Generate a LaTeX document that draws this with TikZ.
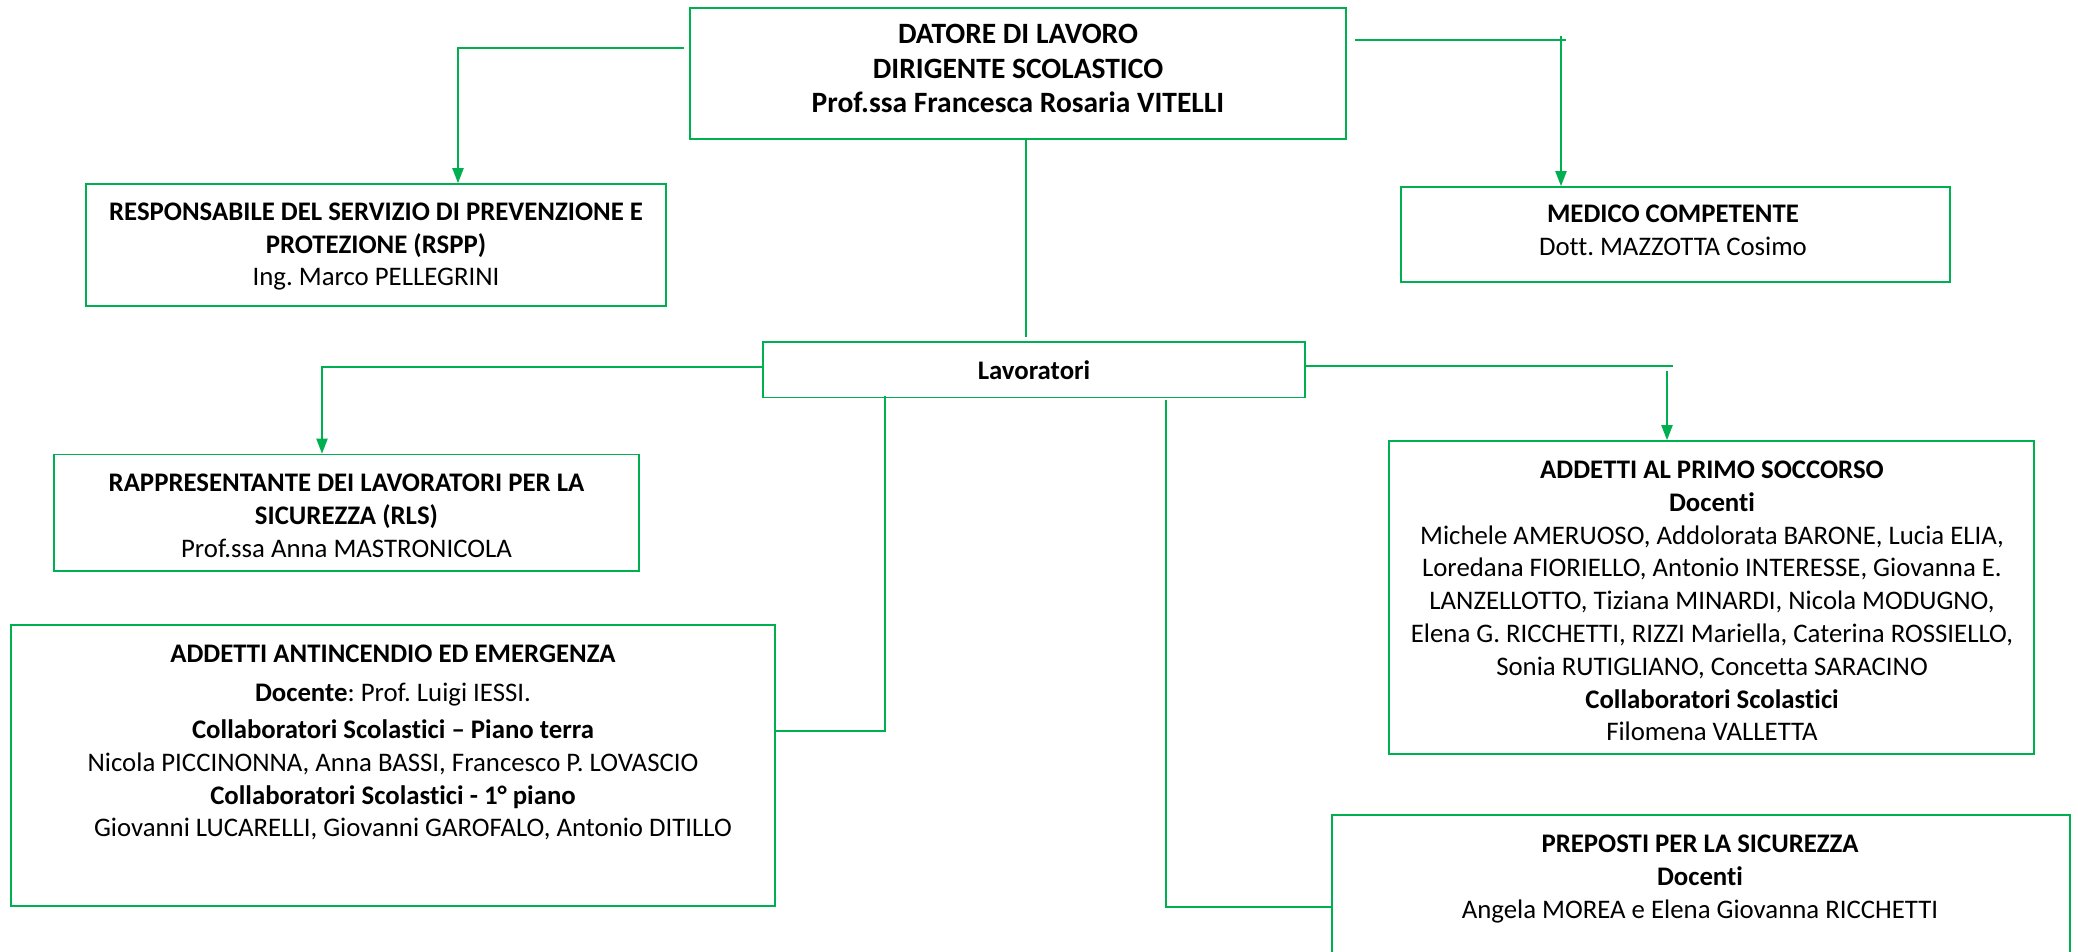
\documentclass[tikz,border=0pt]{standalone}
\usepackage{fontspec}
\setmainfont{Carlito}[Ligatures={NoCommon}]
\usetikzlibrary{arrows.meta}
\definecolor{gr}{HTML}{00B050}
\frenchspacing
\tikzset{
  box/.style={draw=gr, line width=1.6pt, inner sep=0pt, rectangle},
  txt/.style={align=center, inner sep=0pt, anchor=north, font=\fontsize{26.8}{32.8}\selectfont},
  conn/.style={draw=gr, line width=2pt},
  arr/.style={conn, -{Triangle[length=15pt,width=11pt]}},
}
\begin{document}
\begin{tikzpicture}[x=1pt,y=-1pt]
\useasboundingbox (0,0) rectangle (2078,952);
\fill[white] (0,0) rectangle (2078,952);
% boxes
\node[box, minimum width=656pt, minimum height=131pt] (datore) at (1018,73.5) {};
\node[box, minimum width=580pt, minimum height=122pt] (rspp) at (376,245) {};
\node[box, minimum width=549pt, minimum height=95pt] (medico) at (1675.5,234.5) {};
\node[box, minimum width=542pt, minimum height=55.5pt] (lav) at (1034,369.75) {};
\node[box, minimum width=585pt, minimum height=116.5pt] (rls) at (346.5,512.75) {};
\node[box, minimum width=645pt, minimum height=313pt] (primo) at (1711.5,597.5) {};
\node[box, minimum width=764pt, minimum height=281pt] (anti) at (392.8,765.5) {};
\node[box, minimum width=738pt, minimum height=200pt] (prep) at (1701,915) {};
% texts
\node[txt, font=\fontsize{29.5}{34.4}\selectfont\bfseries] (datoreT) at (1018,19.5)
  {\strut DATORE DI LAVORO\\DIRIGENTE SCOLASTICO\\Prof.ssa Francesca Rosaria VITELLI};
\node[txt] (rsppT) at (376,197.2)
  {\strut\textbf{RESPONSABILE DEL SERVIZIO DI PREVENZIONE E}\\\textbf{PROTEZIONE (RSPP)}\\Ing. Marco PELLEGRINI};
\node[txt] (medicoT) at (1673,199.8)
  {\strut\textbf{MEDICO COMPETENTE}\\Dott. MAZZOTTA Cosimo};
\node[txt] (lavT) at (1034,356.2) {\strut\textbf{Lavoratori}};
\node[txt] (rlsT) at (346.5,468.8)
  {\strut\textbf{RAPPRESENTANTE DEI LAVORATORI PER LA}\\\textbf{SICUREZZA (RLS)}\\Prof.ssa Anna MASTRONICOLA};
\node[txt] (antiT) at (393,639.8)
  {\strut\textbf{ADDETTI ANTINCENDIO ED EMERGENZA}\\[5.7pt]
   \textbf{Docente}: Prof. Luigi IESSI.\\[4.2pt]
   \textbf{Collaboratori Scolastici – Piano terra}\\
   Nicola PICCINONNA, Anna BASSI, Francesco P. LOVASCIO\\
   \textbf{Collaboratori Scolastici - 1° piano}\\
   \hspace*{40pt}Giovanni LUCARELLI, Giovanni GAROFALO, Antonio DITILLO};
\node[txt] (primoT) at (1712,455.3)
  {\strut\textbf{ADDETTI AL PRIMO SOCCORSO}\\
   \textbf{Docenti}\\
   Michele AMERUOSO, Addolorata BARONE, Lucia ELIA,\\
   Loredana FIORIELLO, Antonio INTERESSE, Giovanna E.\\
   LANZELLOTTO, Tiziana MINARDI, Nicola MODUGNO,\\
   Elena G. RICCHETTI, RIZZI Mariella, Caterina ROSSIELLO,\\
   Sonia RUTIGLIANO, Concetta SARACINO\\
   \textbf{Collaboratori Scolastici}\\
   Filomena VALLETTA};
\node[txt] (prepT) at (1700,829.3)
  {\strut\textbf{PREPOSTI PER LA SICUREZZA}\\\textbf{Docenti}\\Angela MOREA e Elena Giovanna RICCHETTI};
% connectors
\draw[arr] ([xshift=-5pt]datore.west |- 0,48) -| (rspp.north -| 458,0);
\draw[conn] ([xshift=8pt]datore.east |- 0,40) -- (1566,40);
\draw[arr] (1561,36) -- (medico.north -| 1561,0);
\draw[conn] (datore.south -| 1025.5,0) -- ([yshift=4pt]lav.north -| 1025.5,0);
\draw[arr] (lav.west |- 0,367) -| (rls.north -| 322,0);
\draw[conn] (lav.east |- 0,366) -- (1673,366);
\draw[arr] (1667,371) -- (primo.north -| 1667,0);
\draw[conn] ([yshift=2pt]lav.south -| 885,0) |- (anti.east |- 0,731);
\draw[conn] ([yshift=-2pt]lav.south -| 1166,0) |- (prep.west |- 0,907);
\end{tikzpicture}
\end{document}
